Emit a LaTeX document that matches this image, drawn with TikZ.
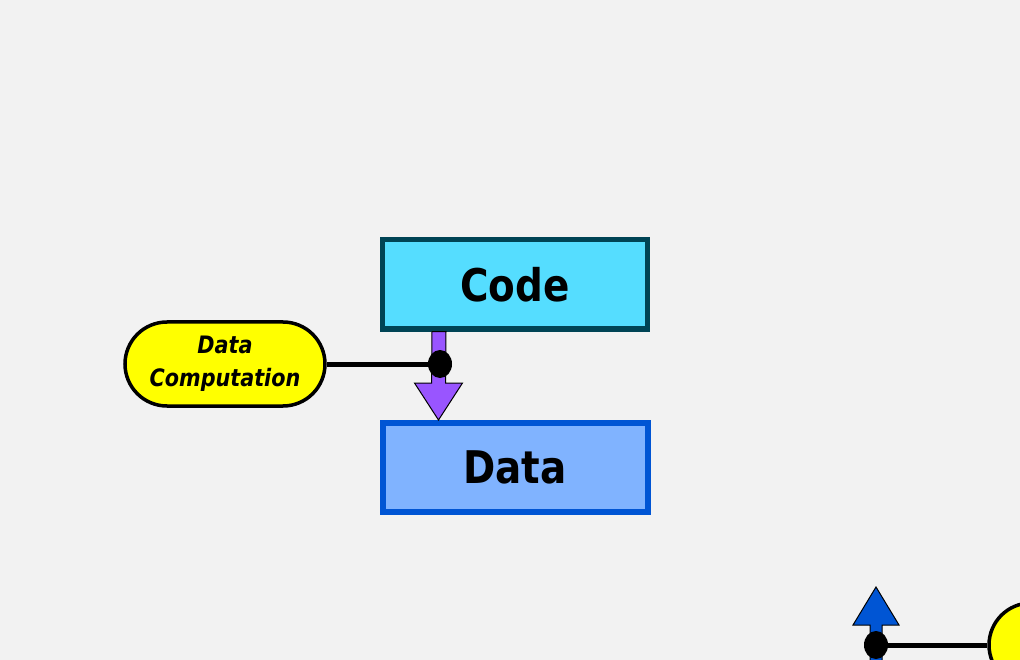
\documentclass[tikz,border=0pt]{standalone}
\usepackage{fontspec}
\newfontfamily\condfont[FakeStretch=0.96]{DejaVu Sans Condensed}
\usetikzlibrary{calc}
\definecolor{bggray}{HTML}{F2F2F2}
\definecolor{codefill}{HTML}{55DDFF}
\definecolor{codeline}{HTML}{004455}
\definecolor{datafill}{HTML}{80B3FF}
\definecolor{dataline}{HTML}{0055D4}
\definecolor{flowpurple}{HTML}{9955FF}
\definecolor{pillyellow}{HTML}{FFFF00}
\tikzset{x=1pt,y=-1pt,
 box/.style={rectangle,minimum width=265pt,minimum height=89pt,inner sep=0pt,
  font=\condfont\bfseries\fontsize{45}{45}\selectfont},
 pill/.style={rectangle,rounded corners=42pt,draw=black,line width=3.5pt,fill=pillyellow,
  minimum width=200pt,minimum height=84pt,inner sep=0pt,align=center,
  font=\condfont\bfseries\itshape\fontsize{24}{33}\selectfont},
 blob/.style={ellipse,fill=black,inner sep=0pt,minimum width=24pt,minimum height=28pt},
 link/.style={line width=5pt,draw=black},
 fatarrow/.style={draw=black,line width=1pt,line join=miter},
 }
\usetikzlibrary{shapes.geometric}
\begin{document}
\begin{tikzpicture}
        \fill [bggray] (0, 0) rectangle (1020, 660);
        \useasboundingbox (0, 0) rectangle (1020, 660);
        \node [box, draw=codeline, line width=5pt, fill=codefill] (code) at (515, 284.5) {Code};
        \node [box, draw=dataline, line width=6pt, fill=datafill] (data) at (515, 467.5) {Data};
        \node [pill] (comp) at (225, 364) {Data\\Computation};
        % purple flow from code to data
        \coordinate (top) at ($(code.south west)+(59, 0)$);
        \coordinate (tip) at ($(data.north west)+(59, 0)$);
        \draw [fatarrow, fill=flowpurple] ($(top)+(-7, 0)$) -- ($(top)+(7, 0)$) -- ($(tip)+(7, -37)$)
            -- ($(tip)+(24, -37)$) -- (tip) -- ($(tip)+(-24, -37)$) -- ($(tip)+(-7, -37)$) -- cycle;
        \node [blob] (dot) at (440, 364) {};
        \draw [link] (comp.east) -- (dot);
        % blue flow, lower right
        \coordinate (tip2) at (876, 587);
        \node [pill] (comp2) at (1089, 645) {};
        \draw [fatarrow, fill=dataline] ($(tip2)+(-6, 38)$) -- ($(tip2)+(-6, 90)$) -- ($(tip2)+(6, 90)$)
            -- ($(tip2)+(6, 38)$) -- ($(tip2)+(23, 38)$) -- (tip2) -- ($(tip2)+(-23, 38)$) -- cycle;
        \node [blob] (dot2) at (876, 645) {};
        \draw [link] (dot2) -- (comp2.west);
    \end{tikzpicture}
\end{document}
